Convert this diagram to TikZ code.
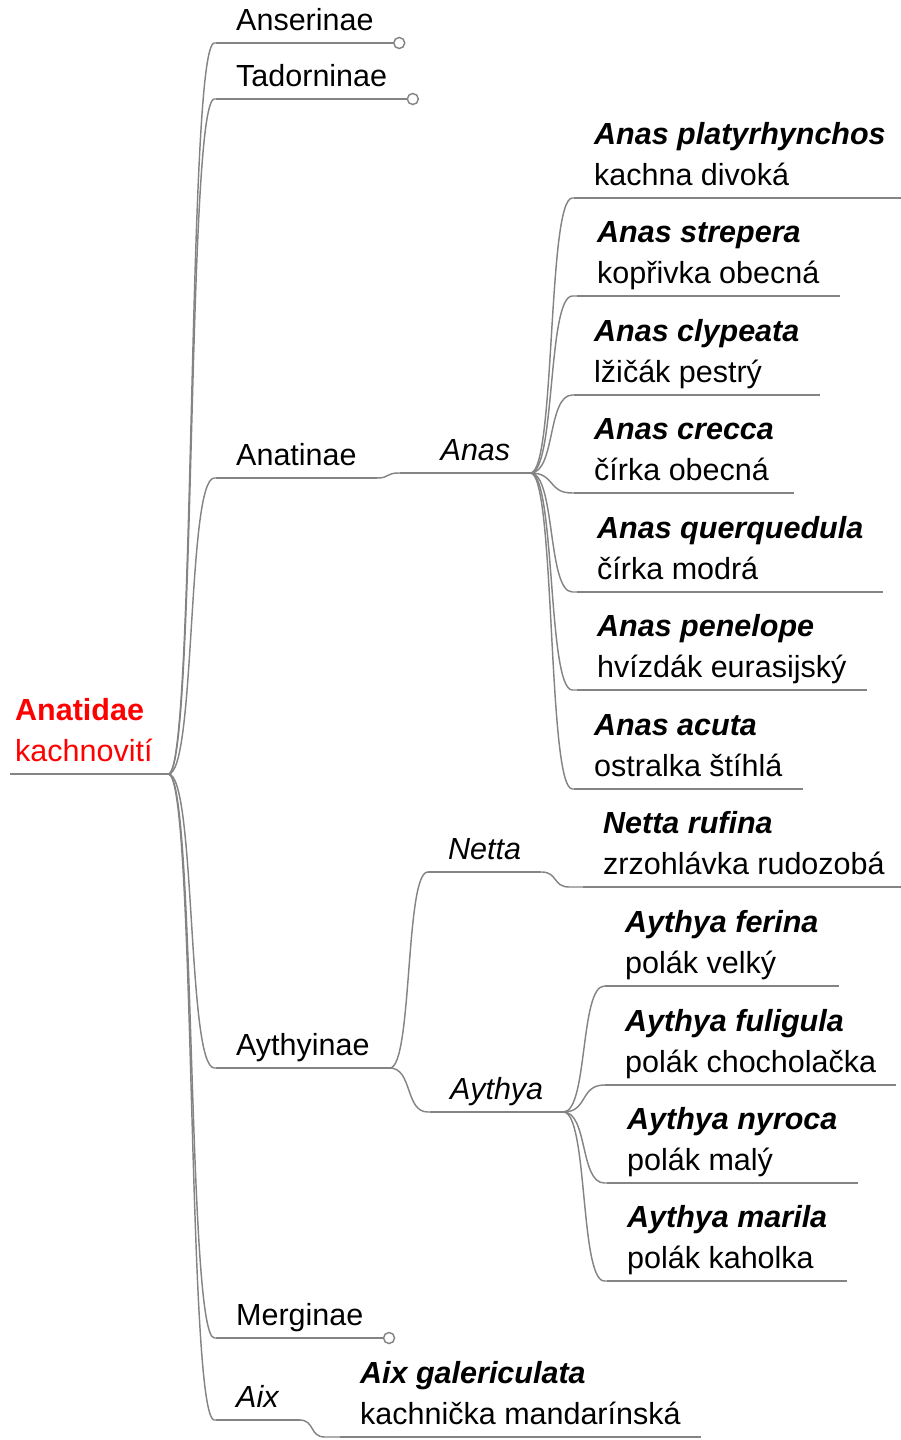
\documentclass[tikz,border=0pt]{standalone}
\usepackage{fontspec}
\setmainfont{Liberation Sans}
\usepackage{xcolor}
\usepackage{tikz}

\definecolor{linegray}{RGB}{132,132,132}
\definecolor{rootred}{RGB}{255,0,0}

\begin{document}
\begin{tikzpicture}[
        x=1pt, y=-1pt,
        font=\fontsize{30.5}{41}\selectfont,
        topic/.style={anchor=south west, inner xsep=20pt, inner ysep=12pt, text depth=0pt, align=left},
        root/.style={topic, inner xsep=5pt, text width=148pt, text depth=41pt, text=rootred},
        line/.style={draw=linegray, line width=1.45pt},
        branch/.style={line, to path={.. controls +({0.6*#1},0) and +({-0.6*#1},0) .. ([xshift=#1]\tikztostart |- \tikztotarget) -- (\tikztotarget)}},
        endcircle/.style={circle, draw=linegray, line width=1.45pt, fill=white, inner sep=0pt, minimum size=11pt}
    ]
        \useasboundingbox (0,0) rectangle (900,1440);

        % Root
        \node[root] (anatidae) at (10,774) {\textbf{Anatidae}\\kachnovití};

        % Subfamilies
        \node[topic] (anserinae) at (216,43) {Anserinae};
        \node[topic] (tadorninae) at (216,99) {Tadorninae};
        \node[topic] (anatinae) at (216,478) {Anatinae};
        \node[topic] (aythyinae) at (216,1068) {Aythyinae};
        \node[topic] (merginae) at (216,1338) {Merginae};
        \node[topic] (aix) at (216,1420) {\textit{Aix}};

        % Genera
        \node[topic, text width=90pt, align=right] (anas) at (400,473) {\textit{Anas}};
        \node[topic] (netta) at (428,872) {\textit{Netta}};
        \node[topic] (aythya) at (430,1112) {\textit{Aythya}};

        % Species of Anas
        \node[topic] (platyrhynchos) at (574,198) {\textbf{\textit{Anas platyrhynchos}}\\kachna divoká};
        \node[topic] (strepera) at (577,296) {\textbf{\textit{Anas strepera}}\\kopřivka obecná};
        \node[topic] (clypeata) at (574,395) {\textbf{\textit{Anas clypeata}}\\lžičák pestrý};
        \node[topic] (crecca) at (574,493) {\textbf{\textit{Anas crecca}}\\čírka obecná};
        \node[topic] (querquedula) at (577,592) {\textbf{\textit{Anas querquedula}}\\čírka modrá};
        \node[topic] (penelope) at (577,690) {\textbf{\textit{Anas penelope}}\\hvízdák eurasijský};
        \node[topic] (acuta) at (574,789) {\textbf{\textit{Anas acuta}}\\ostralka štíhlá};

        % Species of Netta and Aythya
        \node[topic] (rufina) at (583,887) {\textbf{\textit{Netta rufina}}\\zrzohlávka rudozobá};
        \node[topic] (ferina) at (605,986) {\textbf{\textit{Aythya ferina}}\\polák velký};
        \node[topic] (fuligula) at (605,1085) {\textbf{\textit{Aythya fuligula}}\\polák chocholačka};
        \node[topic] (nyroca) at (607,1183) {\textbf{\textit{Aythya nyroca}}\\polák malý};
        \node[topic] (marila) at (607,1281) {\textbf{\textit{Aythya marila}}\\polák kaholka};

        % Species of Aix
        \node[topic] (galericulata) at (340,1437) {\textbf{\textit{Aix galericulata}}\\kachnička mandarínská};

        % Underlines
        \foreach \n in {anatidae, anserinae, tadorninae, anatinae, aythyinae, merginae, aix,
                        anas, netta, aythya, platyrhynchos, strepera, clypeata, crecca,
                        querquedula, penelope, acuta, rufina, ferina, fuligula, nyroca,
                        marila, galericulata}
            \draw[line] (\n.south west) -- (\n.south east);

        % Branches
        \foreach \n in {anserinae, tadorninae, anatinae, aythyinae, merginae, aix}
            \draw[branch=46] (anatidae.south east) to (\n.south west);
        \draw[branch=22] (anatinae.south east) to (anas.south west);
        \foreach \n in {platyrhynchos, strepera, clypeata, crecca, querquedula, penelope, acuta}
            \draw[branch=42] (anas.south east) to (\n.south west);
        \draw[branch=38] (aythyinae.south east) to (netta.south west);
        \draw[branch=38] (aythyinae.south east) to (aythya.south west);
        \draw[branch=28] (netta.south east) to (rufina.south west);
        \foreach \n in {ferina, fuligula, nyroca, marila}
            \draw[branch=41] (aythya.south east) to (\n.south west);
        \draw[branch=25] (aix.south east) to (galericulata.south west);

        % Collapsed ends
        \node[endcircle] (anserinae-end) at ([xshift=5.5pt]anserinae.south east) {};
        \node[endcircle] (tadorninae-end) at ([xshift=5.5pt]tadorninae.south east) {};
        \node[endcircle] (merginae-end) at ([xshift=5.5pt]merginae.south east) {};
    \end{tikzpicture}
\end{document}
